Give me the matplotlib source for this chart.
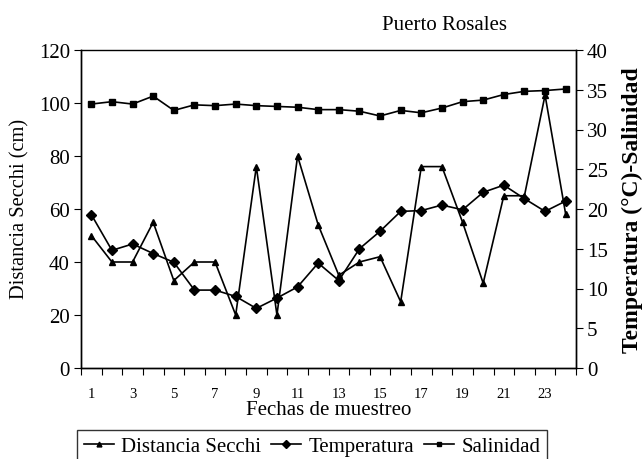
import matplotlib
matplotlib.use("Agg")
import matplotlib.pyplot as plt
import numpy as np

plt.rcParams['font.family'] = ['Liberation Serif', 'DejaVu Serif']

fechas = list(range(1, 25))
secchi = [50, 40, 40, 55, 33, 40, 40, 20, 76, 20, 80, 54, 35, 40, 42, 25, 76, 76, 55, 32, 65, 65, 103, 58]
temperatura = [19.3, 14.8, 15.6, 14.4, 13.3, 9.8, 9.8, 9.0, 7.5, 8.8, 10.2, 13.2, 11.0, 15.0, 17.2, 19.7, 19.8, 20.5, 19.9, 22.1, 23.0, 21.3, 19.7, 21.0]
salinidad = [33.2, 33.5, 33.2, 34.2, 32.4, 33.1, 33.0, 33.2, 33.0, 32.9, 32.8, 32.5, 32.5, 32.3, 31.7, 32.4, 32.1, 32.7, 33.5, 33.7, 34.4, 34.8, 34.9, 35.1]
xtick_labels = [1, 3, 5, 7, 9, 11, 13, 15, 17, 19, 21, 23]

fig = plt.figure(figsize=(6.43, 4.60), dpi=100)
ax = fig.add_axes([81/643, 1-369/460, (576-81)/643, (369-51)/460])
ax2 = ax.twinx()

l1, = ax.plot(fechas, secchi, color='black', lw=1.2, marker='^', ms=5, label='Distancia Secchi')
l2, = ax2.plot(fechas, temperatura, color='black', lw=1.2, marker='D', ms=5.5, label='Temperatura')
l3, = ax2.plot(fechas, salinidad, color='black', lw=1.2, marker='s', ms=5, label='Salinidad')

ax.set_xlim(0.5, 24.5)
ax.set_ylim(0, 120)
ax2.set_ylim(0, 40)
ax.set_yticks(np.arange(0, 121, 20))
ax2.set_yticks(np.arange(0, 41, 5))
ax.set_xticks(np.arange(0.5, 25, 1))
ax.set_xticklabels([])
ax.set_xticks(xtick_labels, minor=True)
ax.set_xticklabels([str(v) for v in xtick_labels], minor=True, fontsize=10.5)
ax.tick_params(axis='x', which='minor', length=0, pad=14)
ax.tick_params(axis='x', which='major', length=5, direction='out', width=0.8)
ax.tick_params(axis='y', labelsize=15, length=5, width=0.8, pad=3)
ax2.tick_params(axis='y', labelsize=15, length=5, width=0.8, pad=3)

for a in (ax, ax2):
    for s in a.spines.values():
        s.set_linewidth(1.0)
        s.set_color('black')
ax.spines['top'].set_linewidth(0.6)

ax.set_xlabel('Fechas de muestreo', fontsize=15)
ax.xaxis.set_label_coords(0.5, (369-401)/318)

fig.text(20/643, 1-209/460, 'Distancia Secchi (cm)', fontsize=14.8, rotation=90,
         ha='center', va='center')
fig.text(632/643, 1-210/460, 'Temperatura (°C)-Salinidad', fontsize=17, fontweight='bold',
         rotation=90, ha='center', va='center')

fig.text(445/643, 1-26/460, 'Puerto Rosales', fontsize=15, ha='center', va='center')

leg = fig.legend(handles=[l1, l2, l3], loc='upper center', bbox_to_anchor=(312/643, 1-431/460),
                 ncol=3, fontsize=15, frameon=True, fancybox=False, edgecolor='black',
                 handlelength=1.45, handletextpad=0.33, columnspacing=0.5, borderpad=0.3,
                 borderaxespad=0, markerscale=0.7)
leg.get_frame().set_linewidth(1.0)

fig.savefig('out.png', dpi=100)
